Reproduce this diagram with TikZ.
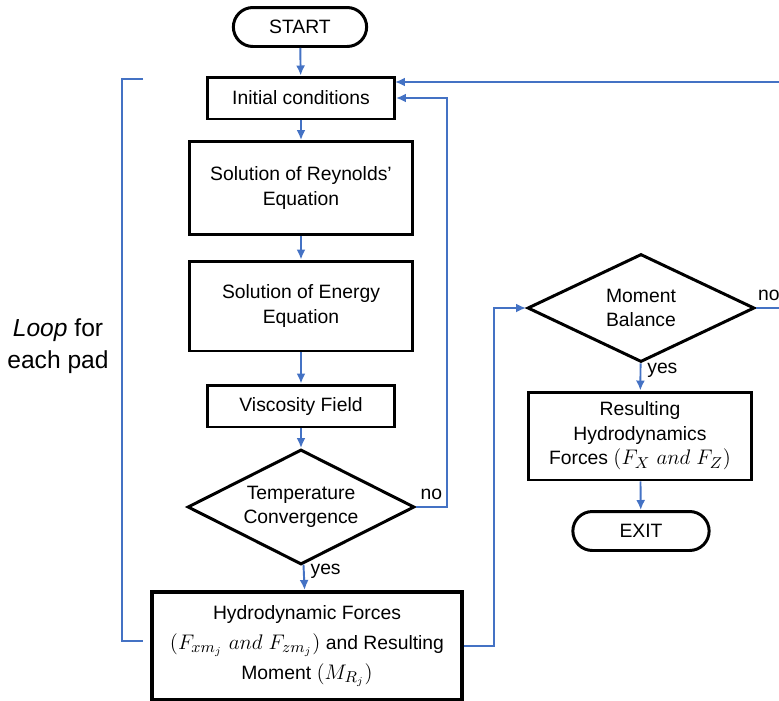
\documentclass[tikz,border=0pt]{standalone}
\usepackage{fontspec}
\setmainfont{Liberation Sans}
\usetikzlibrary{arrows.meta,shapes.geometric,shapes.misc}
\definecolor{flow}{RGB}{68,114,196}
\newcommand{\bigmath}[1]{{\fontsize{12.5}{14}\selectfont$#1$}}

\begin{document}
\begin{tikzpicture}[x=0.02cm,y=-0.02cm,>={Latex[length=2mm,width=1.8mm]},font=\fontsize{11}{14}\selectfont]
    \tikzstyle{block}=[rectangle,draw,line width=1.7pt,align=center,inner sep=2pt]
    \tikzstyle{term}=[rounded rectangle,draw,line width=1.7pt,minimum height=0.78cm]
    \tikzstyle{decision}=[diamond,aspect=2,draw,line width=1.7pt,align=center,inner sep=0pt,minimum width=4.54cm]
    \tikzstyle{line}=[draw=flow,line width=1.1pt]
    \useasboundingbox (0,0) rectangle (779,701);
    % left column: one pad
    \node[term,minimum width=2.9cm] (start) at (300,27) {START};
    \node[block,minimum width=3.74cm,minimum height=0.84cm] (init) at (301,98) {Initial conditions};
    \node[block,minimum width=4.48cm,minimum height=1.86cm] (reyn) at (301,188) {Solution of Reynolds'\\Equation};
    \node[block,minimum width=4.48cm,minimum height=1.8cm] (ener) at (301,306) {Solution of Energy\\Equation};
    \node[block,minimum width=3.74cm,minimum height=0.84cm] (visc) at (301,406) {Viscosity Field};
    \node[decision,minimum height=2.3cm] (temp) at (301,507) {Temperature\\Convergence};
    \node[block,line width=2.3pt,minimum width=6.2cm,minimum height=2.16cm] (hydro) at (307,646)
        {Hydrodynamic Forces\\[3pt]\bigmath{\bigl(F_{xm_j}\ and\ F_{zm_j}\bigr)} and Resulting\\[3pt]Moment \bigmath{\bigl(M_{R_j}\bigr)}};
    % right column: balance of the pads
    \node[decision,minimum height=2.16cm] (mom) at (641,308) {Moment\\Balance};
    \node[block,minimum width=4.48cm,minimum height=1.76cm] (res) at (640,436)
        {Resulting\\Hydrodynamics\\Forces \bigmath{(F_X\ and\ F_Z)}};
    \node[term,minimum width=2.96cm] (exit) at (641,531) {EXIT};
    % bends of the loops
    \coordinate (inner) at (447,0);
    \coordinate (mid) at (494,0);
    \coordinate (outer) at (782,0);
    \coordinate (back) at (395,82);
    \draw[line,->] (start) -- (init);
    \draw[line,->] (init) -- (reyn);
    \draw[line,->] (reyn) -- (ener);
    \draw[line,->] (ener) -- (visc);
    \draw[line,->] (visc) -- (temp);
    \draw[line,->] (temp) -- node[right,black,pos=0.25] {yes} (hydro);
    \draw[line,->] (temp.east) -- node[above,black] {no} (temp.east -| inner) |- (init.east);
    \draw[line,->] (hydro.east) -- (hydro.east -| mid) |- (mom.west);
    \draw[line,->] (mom) -- node[right,black,pos=0.25] {yes} (res);
    \draw[line,->] (res) -- (exit);
    \draw[line,->] (mom.east) -- node[above,black,pos=0.5] {no} (mom.east -| outer) |- (back);
    % bracket round the pad loop
    \draw[line] (143,79) -- (122,79) -- (122,641) -- (143,641);
    \node[align=center,font=\fontsize{14}{18}\selectfont] (loop) at (58,346) {\textit{Loop} for\\each pad};
\end{tikzpicture}
\end{document}
